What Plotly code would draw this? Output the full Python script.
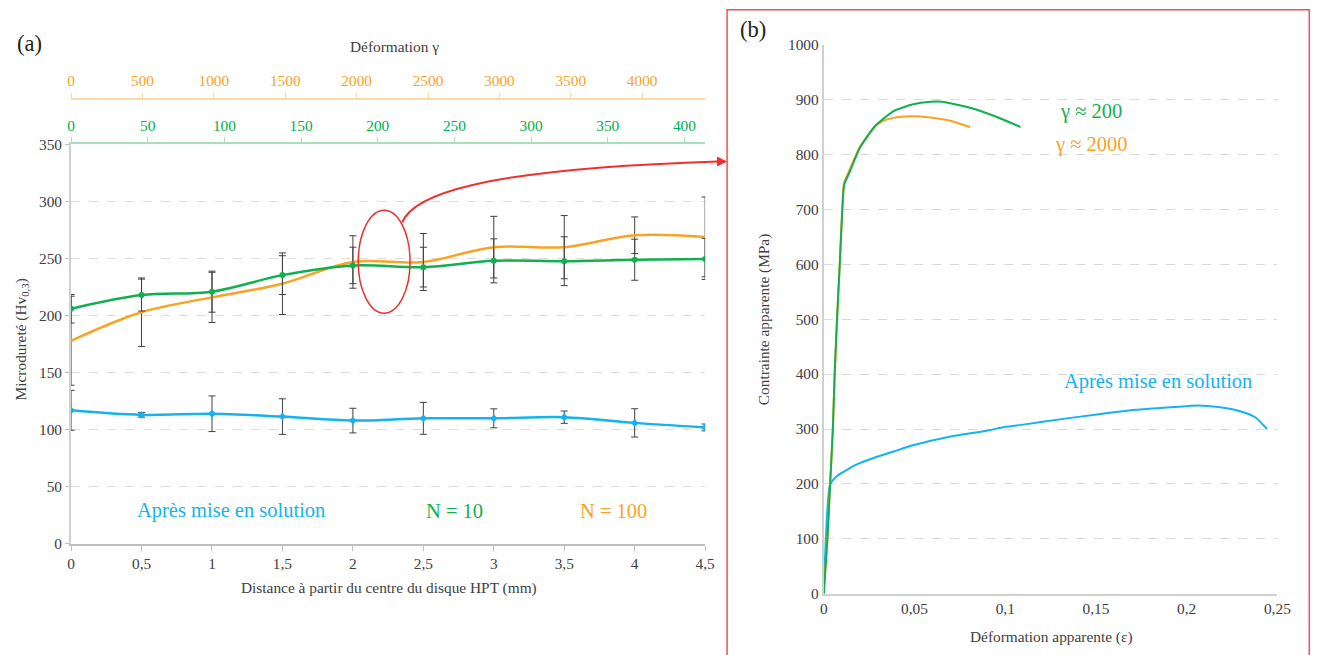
import plotly.graph_objects as go

# The photographed picture shows the page slightly shrunk and shifted, so target
# (reference) pixel positions are mapped back into page pixels before use.
SX, AX = 0.9895, 1.7
SY, AY = 0.976, 7.3
W, H = 1330, 664
FONT = "Liberation Serif, Tinos, Times New Roman, DejaVu Serif, serif"
K = 1.0 / SY  # font enlargement to offset the shrink

def px(x):
    return ((x - AX) / SX) / W

def py(y):
    return 1 - ((y - AY) / SY) / H

# ---------------- Panel (a) data ----------------
distance_mm = [0, 0.5, 1, 1.5, 2, 2.5, 3, 3.5, 4, 4.5]
hv_solution = [117, 113, 114, 111.5, 108, 110, 110, 111, 106, 102]
hv_solution_err = [17.5, 2, 15.6, 15.6, 10.8, 14, 8.3, 5.4, 12.4, 3]
hv_n10 = [206, 218, 221, 235.5, 244, 242.5, 248, 247.7, 249, 249.7]
hv_n10_err = [12.5, 14, 18, 17, 16, 17.4, 19.3, 21.4, 18, 18]
hv_n100 = [178, 203, 216, 228, 247, 247, 260, 260, 270.5, 269]
hv_n100_err = [39, 30, 22, 27, 23, 25, 27, 27.7, 16, 35]

# ---------------- Panel (b) data ----------------
eps_n10 = [0, 0.002, 0.0035, 0.005, 0.006, 0.0073, 0.0088, 0.0102, 0.0112, 0.0137,
           0.0199, 0.0281, 0.0384, 0.0487, 0.059, 0.0652, 0.0796, 0.094, 0.1084]
sig_n10 = [0, 100, 200, 300, 400, 500, 600, 700, 745, 764,
           812, 851, 879, 891, 896, 896, 886, 870, 850]
eps_n100 = [0, 0.002, 0.0035, 0.005, 0.006, 0.0073, 0.0088, 0.0102, 0.0112, 0.0137,
            0.0199, 0.0281, 0.0323, 0.0384, 0.0487, 0.053, 0.061, 0.0693, 0.0806]
sig_n100 = [0, 100, 200, 300, 400, 500, 600, 700, 748, 768,
            814, 851, 860.5, 866.6, 869.6, 869, 866.6, 862, 850]
eps_solution = [0, 0.0035, 0.0075, 0.0179, 0.0282, 0.0384, 0.0487, 0.0693, 0.0899,
                0.1002, 0.11, 0.131, 0.1516, 0.172, 0.1928, 0.2062, 0.2175, 0.2299,
                0.238, 0.2443]
sig_solution = [0, 199, 215, 235, 248, 259, 270, 286, 297,
                304, 308, 318, 327, 335, 340, 343, 340, 332,
                321, 300]

GREEN = "#10B050"
ORANGE = "#F9A326"
BLUE = "#15B3EE"
ERR = "#404040"

fig = go.Figure()

# panel (a) traces
fig.add_trace(go.Scatter(
    x=distance_mm, y=hv_n100, mode="lines", line=dict(color=ORANGE, width=2.5, shape="spline"),
    error_y=dict(type="data", array=hv_n100_err, color=ERR, thickness=1, width=3.5),
    xaxis="x", yaxis="y", showlegend=False))
fig.add_trace(go.Scatter(
    x=distance_mm, y=hv_n10, mode="lines+markers", line=dict(color=GREEN, width=2.5, shape="spline"),
    marker=dict(color=GREEN, size=6),
    error_y=dict(type="data", array=hv_n10_err, color=ERR, thickness=1, width=3.5),
    xaxis="x", yaxis="y", showlegend=False))
fig.add_trace(go.Scatter(
    x=distance_mm, y=hv_solution, mode="lines+markers", line=dict(color=BLUE, width=2.5, shape="spline"),
    marker=dict(color=BLUE, size=6, symbol="diamond"),
    error_y=dict(type="data", array=hv_solution_err, color=ERR, thickness=1, width=3.5),
    xaxis="x", yaxis="y", showlegend=False))
# placeholders so the top axes are drawn
fig.add_trace(go.Scatter(x=[None], y=[None], xaxis="x2", yaxis="y", showlegend=False, hoverinfo="skip"))
fig.add_trace(go.Scatter(x=[None], y=[None], xaxis="x3", yaxis="y", showlegend=False, hoverinfo="skip"))

# panel (b) traces
fig.add_trace(go.Scatter(
    x=eps_solution, y=sig_solution, mode="lines", line=dict(color=BLUE, width=2, shape="spline", smoothing=0.5),
    xaxis="x4", yaxis="y2", showlegend=False))
fig.add_trace(go.Scatter(
    x=eps_n100, y=sig_n100, mode="lines", line=dict(color=ORANGE, width=2, shape="spline", smoothing=0.5),
    xaxis="x4", yaxis="y2", showlegend=False))
fig.add_trace(go.Scatter(
    x=eps_n10, y=sig_n10, mode="lines", line=dict(color=GREEN, width=2, shape="spline", smoothing=0.5),
    xaxis="x4", yaxis="y2", showlegend=False))

TS = 15 * K
tickfont = dict(family=FONT, size=TS, color="#404040")

fig.update_layout(
    width=W, height=H, autosize=False,
    margin=dict(l=0, r=0, t=0, b=0),
    paper_bgcolor="white", plot_bgcolor="white",
    separators=", ",
    hovermode=False,
    font=dict(family=FONT, size=TS, color="#404040"),
    xaxis=dict(domain=[px(69), px(705)], anchor="y", range=[0, 4.5], dtick=0.5, tick0=0,
               showline=True, linecolor="#BFBFBF", linewidth=1.5, ticks="outside", ticklen=5,
               tickcolor="#BFBFBF", showgrid=False, zeroline=False, tickfont=tickfont),
    yaxis=dict(domain=[py(543), py(143)], anchor="x", range=[0, 350], dtick=50,
               showgrid=True, gridcolor="#DDDDDD", griddash="dash", gridwidth=1,
               showline=True, linecolor="#D0D0D0", linewidth=2, ticks="outside", ticklen=4,
               tickcolor="#BFBFBF", zeroline=False, tickfont=tickfont),
    xaxis2=dict(overlaying="x", side="top", anchor="y", range=[0, 413.5], dtick=50, tick0=0,
                showline=True, linecolor="#A8E0BC", linewidth=2, ticks="outside", ticklen=5,
                tickcolor="#A8E0BC", showgrid=False, zeroline=False,
                tickfont=dict(family=FONT, size=TS, color="#00B050")),
    xaxis3=dict(overlaying="x", side="top", anchor="free", position=py(97), range=[0, 4441],
                dtick=500, tick0=0, showline=True, linecolor="#FBD9A2", linewidth=2,
                ticks="outside", ticklen=5, tickcolor="#FBD9A2", showgrid=False, zeroline=False,
                tickfont=dict(family=FONT, size=TS, color=ORANGE)),
    xaxis4=dict(domain=[px(824), px(1279)], anchor="y2", range=[0, 0.25], dtick=0.05, tick0=0,
                showline=True, linecolor="#D0D0D0", linewidth=2, ticks="", showgrid=False,
                zeroline=False, tickfont=tickfont),
    yaxis2=dict(domain=[py(593), py(43)], anchor="x4", range=[0, 1000], dtick=100,
                showgrid=True, gridcolor="#D9D9D9", griddash="dash", gridwidth=1,
                showline=True, linecolor="#D0D0D0", linewidth=2, ticks="", zeroline=False,
                tickfont=tickfont),
)

def ann(x, y, text, size=15, color="#404040", angle=0):
    fig.add_annotation(x=px(x), y=py(y), xref="paper", yref="paper", text=text, showarrow=False,
                       textangle=angle, font=dict(family=FONT, size=size * K, color=color),
                       xanchor="center", yanchor="middle")

ann(27, 42, "(a)", size=22, color="#222222")
ann(753, 28, "(b)", size=22, color="#222222")
ann(393, 45, "Déformation γ", size=15)
ann(19, 338, "Microdureté (Hv<sub>0,3</sub>)", size=15, angle=-90)
ann(388, 587, "Distance à partir du centre du disque HPT (mm)", size=15)
ann(764, 318, "Contrainte apparente (MPa)", size=15, angle=-90)
ann(1052, 636, "Déformation apparente (ε)", size=15)
ann(229, 510, "Après mise en solution", size=20, color=BLUE)
ann(454, 510, "N = 10", size=20, color=GREEN)
ann(613, 510, "N = 100", size=20, color=ORANGE)
ann(1092, 110, "γ ≈ 200", size=20, color=GREEN)
ann(1093, 143, "γ ≈ 2000", size=20, color=ORANGE)
ann(1159, 380, "Après mise en solution", size=20, color=BLUE)

RED = "#F03030"
# ellipse highlighting the zone
fig.add_shape(type="circle", xref="paper", yref="paper",
              x0=px(357), x1=px(409), y0=py(312), y1=py(209),
              line=dict(color=RED, width=1.5))
# connecting curve
p0, p1, p2, p3 = (401, 221), (412, 195), (470, 168), (718, 160)
path = "M {} {} C {} {}, {} {}, {} {}".format(
    px(p0[0]), py(p0[1]), px(p1[0]), py(p1[1]), px(p2[0]), py(p2[1]), px(p3[0]), py(p3[1]))
fig.add_shape(type="path", xref="paper", yref="paper", path=path,
              line=dict(color=RED, width=2))
fig.add_annotation(x=px(727), y=py(160), xref="paper", yref="paper", ax=-12, ay=0,
                   text="", showarrow=True, arrowhead=2,
                   arrowsize=1, arrowwidth=2, arrowcolor=RED)
# frame of panel (b): left, top and right sides (bottom runs off the page)
y_top = min(py(7), 1 - 0.8 / H)
frame = "M {} {} L {} {} L {} {} L {} {}".format(
    px(727), 0, px(727), y_top, px(1311), y_top, px(1311), 0)
fig.add_shape(type="path", xref="paper", yref="paper", path=frame,
              line=dict(color="#F05050", width=1.5))

post = "document.body.style.margin='0';document.body.style.overflow='hidden';"
fig.write_html("out.html", post_script=post, config={"displayModeBar": False})
